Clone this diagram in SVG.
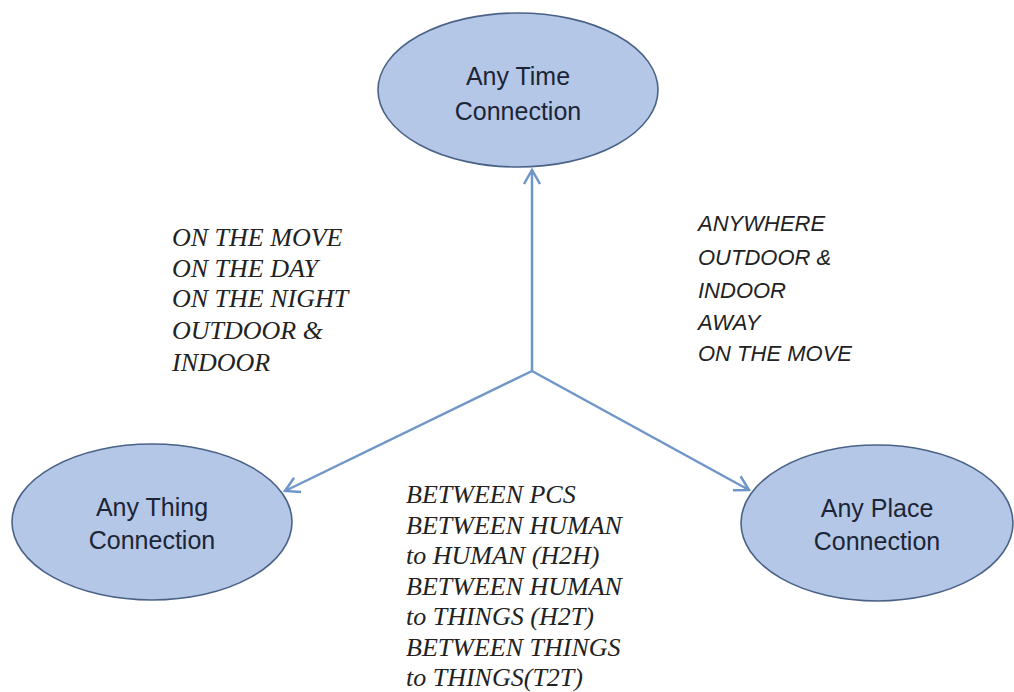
<svg xmlns="http://www.w3.org/2000/svg" width="1014" height="692" viewBox="0 0 1014 692">
  <style>
    .node ellipse { fill: #b4c7e7; stroke: #4b6287; stroke-width: 1.6; }
    .node text { font-family: "Liberation Sans", Arial, sans-serif; font-size: 25px; fill: #1c2535; text-anchor: middle; }
    .edge { stroke: #6f96c9; stroke-width: 2.5; fill: none; marker-end: url(#arrow); }
    .serif { font-family: "Liberation Serif", "Times New Roman", serif; font-style: italic; font-size: 26px; fill: #222; }
    .sans { font-family: "Liberation Sans", Arial, sans-serif; font-style: italic; font-size: 22px; fill: #222; }
  </style>
  <defs>
    <marker id="arrow" viewBox="0 0 20 20" refX="18" refY="10" markerWidth="20" markerHeight="20" markerUnits="userSpaceOnUse" orient="auto">
      <path d="M4,2 L18,10 L4,18" fill="none" stroke="#6f96c9" stroke-width="2.5"/>
    </marker>
  </defs>
  <rect width="1014" height="692" fill="#ffffff"/>

  <!-- connectors from the hub point -->
  <g id="connectors">
    <line class="edge" x1="532" y1="371" x2="532" y2="170"/>
    <line class="edge" x1="532" y1="371" x2="285" y2="491"/>
    <line class="edge" x1="532" y1="371" x2="749" y2="490"/>
  </g>

  <g id="node-time" class="node">
    <ellipse cx="518" cy="90" rx="140" ry="77"/>
    <text x="518" y="85">Any Time</text>
    <text x="518" y="120">Connection</text>
  </g>

  <g id="node-thing" class="node">
    <ellipse cx="152" cy="522" rx="140" ry="78"/>
    <text x="152" y="516">Any Thing</text>
    <text x="152" y="549">Connection</text>
  </g>

  <g id="node-place" class="node">
    <ellipse cx="877" cy="523" rx="136" ry="78"/>
    <text x="877" y="517">Any Place</text>
    <text x="877" y="550">Connection</text>
  </g>

  <!-- edge annotations -->
  <g id="label-time-thing" class="serif">
    <text x="172" y="246">ON THE MOVE</text>
    <text x="172" y="277">ON THE DAY</text>
    <text x="172" y="307">ON THE NIGHT</text>
    <text x="172" y="339">OUTDOOR &amp;</text>
    <text x="172" y="371">INDOOR</text>
  </g>

  <g id="label-time-place" class="sans">
    <text x="698" y="231">ANYWHERE</text>
    <text x="698" y="265">OUTDOOR &amp;</text>
    <text x="698" y="298">INDOOR</text>
    <text x="698" y="330">AWAY</text>
    <text x="698" y="361">ON THE MOVE</text>
  </g>

  <g id="label-thing-place" class="serif">
    <text x="406" y="503">BETWEEN PCS</text>
    <text x="406" y="534">BETWEEN HUMAN</text>
    <text x="406" y="564">to HUMAN (H2H)</text>
    <text x="406" y="595">BETWEEN HUMAN</text>
    <text x="406" y="625">to THINGS (H2T)</text>
    <text x="406" y="656">BETWEEN THINGS</text>
    <text x="406" y="686">to THINGS(T2T)</text>
  </g>
</svg>
